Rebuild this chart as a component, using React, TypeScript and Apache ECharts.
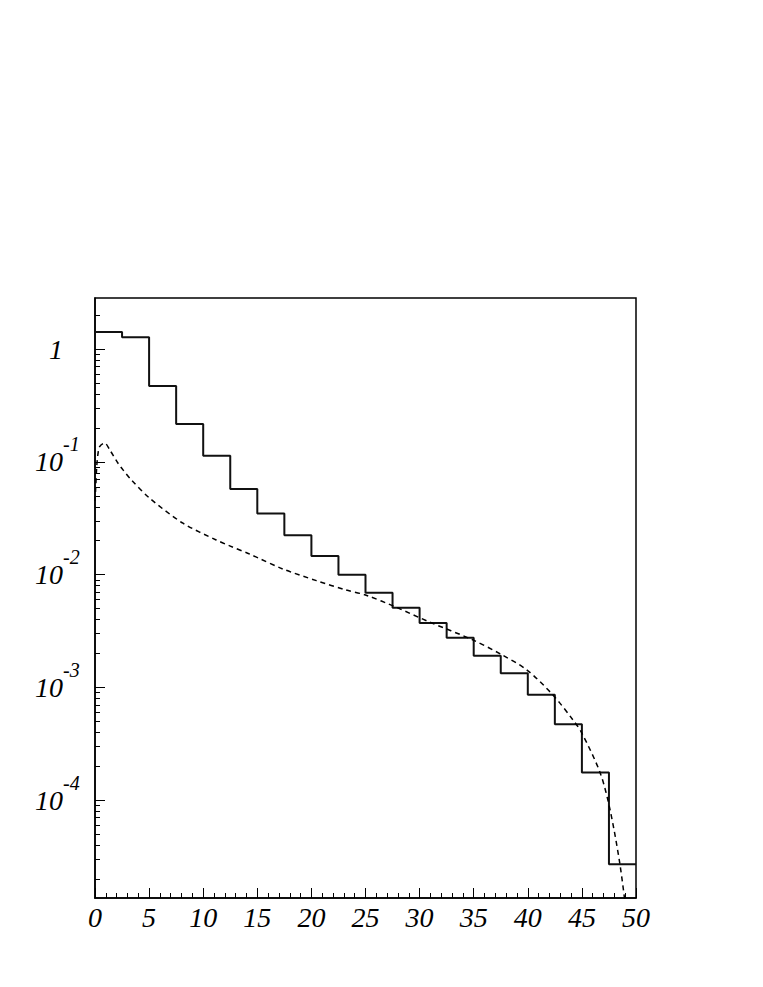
import React, { useEffect, useRef } from "react";
import * as echarts from "echarts";

// Histogram: bin lower edges and contents
const binEdges = [0, 2.5, 5, 7.5, 10, 12.5, 15, 17.5, 20, 22.5, 25, 27.5, 30, 32.5, 35, 37.5, 40, 42.5, 45, 47.5];
const binUpper = 50;
const binValues = [
  1.42, 1.28, 0.472, 0.217, 0.1137, 0.0574, 0.0349, 0.0224, 0.01466, 0.01,
  0.00692, 0.00507, 0.00373, 0.00276, 0.00191, 0.00133, 0.000861, 0.000471, 0.000175, 0.0000269,
];

// Dashed curve samples
const curveX = [0, 0.07, 0.16, 0.28, 0.43, 0.9, 1.36, 2.13, 2.59, 3.36, 5.06, 8.13, 11.2, 12.45, 14.3, 17.38, 20.46, 23.2, 25, 27.9, 30.9, 34.9, 37.5, 39.9, 42.3, 44.2, 45, 46.7, 47.6, 48.5, 49.1];
const curveY = [0.045, 0.06, 0.091, 0.119, 0.137, 0.147, 0.128, 0.0973, 0.085, 0.0692, 0.0476, 0.0286, 0.0203, 0.018, 0.0152, 0.0112, 0.00885, 0.0073, 0.0066, 0.0051, 0.0038, 0.00264, 0.00197, 0.00143, 0.00086, 0.00051, 0.000392, 0.000173, 0.000082, 0.0000275, 0.00001];

// Axis ticks
const xMin = 0;
const xMax = 50;
const xInterval = 5;
const yMin = 1.35e-5;
const yMax = 2.85;
const yMajorTicks = [1, 0.1, 0.01, 0.001, 0.0001];
const yMinorMultipliers = [2, 3, 4, 5, 6, 7, 8, 9];
const yDecades = [-5, -4, -3, -2, -1, 0];

const FONT = "'Liberation Serif', 'DejaVu Serif', serif";
// exponent labels sit raised above the "10": shift their axis by this factor
const SUP_SHIFT = Math.pow(10, 0.155);

export default function App() {
  const ref = useRef<HTMLDivElement>(null);
  useEffect(() => {
    if (!ref.current) return;
    const chart = echarts.init(ref.current, undefined, { renderer: "svg" });
    const minorTicks: number[] = [];
    yDecades.forEach((d) => {
      yMinorMultipliers.forEach((m) => {
        const v = m * Math.pow(10, d);
        if (v > yMin && v < yMax) minorTicks.push(v);
      });
    });
    const histData = binEdges.map((x, i) => [x, binValues[i]]);
    histData.push([binUpper, binValues[binValues.length - 1]]);
    const curveData = curveX.map((x, i) => [x, curveY[i]]);
    const exp = (v: number) => Math.round(Math.log10(v));

    const logAxisBase = {
      type: "log",
      logBase: 10,
      min: yMin,
      max: yMax,
      position: "left",
      splitLine: { show: false },
    };

    chart.setOption({
      animation: false,
      backgroundColor: "#fff",
      grid: {
        left: 95,
        right: 127,
        top: 298,
        bottom: 89,
        show: true,
        borderColor: "#000",
        borderWidth: 1.5,
        backgroundColor: "transparent",
      },
      xAxis: {
        type: "value",
        min: xMin,
        max: xMax,
        interval: xInterval,
        axisLine: { show: true, onZero: false, lineStyle: { color: "#000", width: 1.5 } },
        axisTick: { show: true, inside: true, length: 10, lineStyle: { color: "#000", width: 1 } },
        minorTick: { show: true, splitNumber: 5, length: 5, lineStyle: { color: "#000", width: 1 } },
        splitLine: { show: false },
        minorSplitLine: { show: false },
        axisLabel: {
          margin: 5,
          color: "#000",
          fontFamily: FONT,
          fontStyle: "italic",
          fontSize: 28,
        },
      },
      yAxis: [
        {
          ...logAxisBase,
          axisLine: { show: true, onZero: false, lineStyle: { color: "#000", width: 1.5 } },
          axisTick: { show: true, inside: true, length: 10, customValues: yMajorTicks, lineStyle: { color: "#000", width: 1 } },
          axisLabel: {
            customValues: yMajorTicks,
            align: "right",
            verticalAlign: "middle",
            margin: 32,
            color: "#000",
            fontFamily: FONT,
            fontStyle: "italic",
            fontSize: 28,
            formatter: (v: number) => (exp(v) === 0 ? "1" : "10"),
          },
        },
        {
          ...logAxisBase,
          axisLine: { show: false },
          axisTick: { show: true, inside: true, length: 5, customValues: minorTicks, lineStyle: { color: "#000", width: 1 } },
          axisLabel: { show: false },
        },
        {
          ...logAxisBase,
          min: yMin / SUP_SHIFT,
          max: yMax / SUP_SHIFT,
          axisLine: { show: false },
          axisTick: { show: false },
          axisLabel: {
            customValues: yMajorTicks,
            align: "left",
            verticalAlign: "middle",
            margin: 32,
            color: "#000",
            fontFamily: FONT,
            fontStyle: "italic",
            fontSize: 20,
            formatter: (v: number) => (exp(v) === 0 ? "" : String(exp(v))),
          },
        },
      ],
      series: [
        {
          type: "line",
          data: histData,
          step: "end",
          symbol: "none",
          yAxisIndex: 0,
          lineStyle: { color: "#111", width: 2 },
          clip: true,
        },
        {
          type: "line",
          data: curveData,
          smooth: 0.3,
          symbol: "none",
          yAxisIndex: 0,
          lineStyle: { color: "#000", width: 1.5, type: [5, 4] },
          clip: true,
        },
      ],
    });
    return () => chart.dispose();
  }, []);
  return <div ref={ref} style={{ position: "absolute", left: 0, top: 0, width: 763, height: 987 }} />;
}
